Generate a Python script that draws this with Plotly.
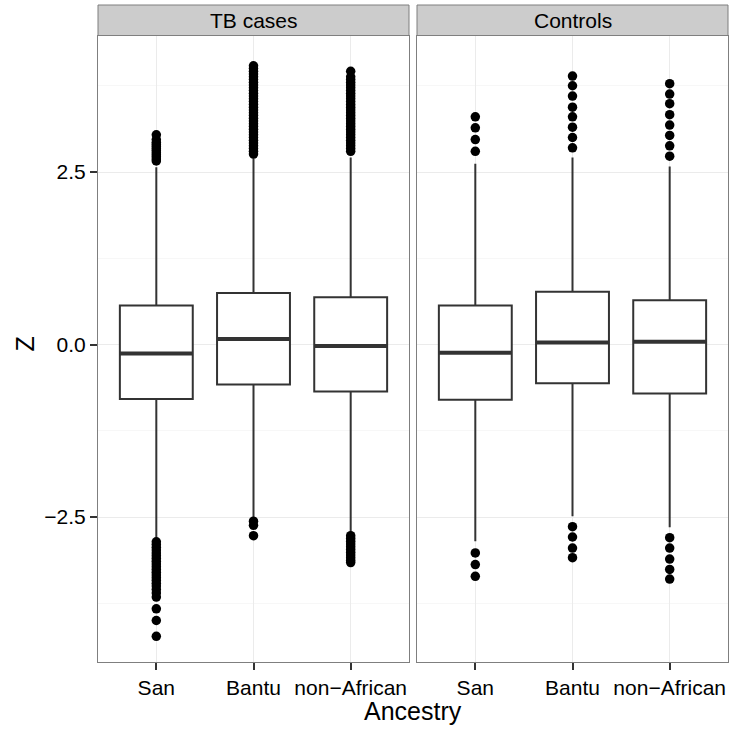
import plotly.graph_objects as go

W, H = 732, 729

panels = ["TB cases", "Controls"]
ancestry = ["San", "Bantu", "non\u2212African"]

# box statistics per panel (order: San, Bantu, non-African)
tb_q1 = [-0.79, -0.58, -0.68]
tb_median = [-0.13, 0.08, -0.02]
tb_q3 = [0.565, 0.745, 0.685]
tb_lower = [-2.80, -2.52, -2.72]
tb_upper = [2.57, 2.70, 2.71]

ctrl_q1 = [-0.80, -0.56, -0.71]
ctrl_median = [-0.12, 0.03, 0.04]
ctrl_q3 = [0.565, 0.765, 0.64]
ctrl_lower = [-2.85, -2.49, -2.65]
ctrl_upper = [2.62, 2.71, 2.58]

# outliers
tb_san_out = [2.66, 2.69, 2.72, 2.75, 2.78, 2.81, 2.84, 2.87, 2.90, 2.93, 2.97, 3.04,
              -2.86, -2.90, -2.94, -2.98, -3.02, -3.06, -3.10, -3.14, -3.18, -3.22,
              -3.26, -3.30, -3.34, -3.38, -3.42, -3.46, -3.50, -3.55, -3.60, -3.66,
              -3.83, -4.00, -4.23]
tb_bantu_out = [2.76, 2.80, 2.84, 2.88, 2.92, 2.96, 3.00, 3.04, 3.08, 3.12, 3.16, 3.20,
                3.24, 3.28, 3.32, 3.36, 3.40, 3.44, 3.48, 3.52, 3.56, 3.60, 3.64, 3.68,
                3.72, 3.76, 3.80, 3.84, 3.88, 3.92, 3.96, 4.00, 4.04,
                -2.56, -2.62, -2.77]
tb_nonaf_out = [2.80, 2.84, 2.88, 2.92, 2.96, 3.00, 3.04, 3.08, 3.12, 3.16, 3.20, 3.24,
                3.28, 3.32, 3.36, 3.40, 3.44, 3.48, 3.52, 3.56, 3.60, 3.64, 3.68, 3.72,
                3.76, 3.80, 3.84, 3.88, 3.96,
                -2.77, -2.81, -2.85, -2.89, -2.93, -2.97, -3.01, -3.05, -3.09, -3.13, -3.16]

ctrl_san_out = [2.80, 2.97, 3.14, 3.30, -3.02, -3.19, -3.36]
ctrl_bantu_out = [2.85, 3.00, 3.15, 3.30, 3.44, 3.60, 3.75, 3.89, -2.64, -2.79, -2.95, -3.09]
ctrl_nonaf_out = [2.73, 2.88, 3.03, 3.18, 3.33, 3.49, 3.63, 3.78,
                  -2.80, -2.95, -3.11, -3.26, -3.40]

y_ticks = [-2.5, 0.0, 2.5]
y_tick_text = ["\u22122.5", "0.0", "2.5"]

# ---------- layout geometry ----------
px_left = [98, 417]
px_right = [409, 728]
py_top, py_bot = 35.5, 662.0
strip_top = 5.0
zero_px, unit_px = 344.5, 69.0
y_range = [(zero_px - py_bot) / unit_px, (zero_px - py_top) / unit_px]

BOX_LINE = "#333333"
BORDER = "#7F7F7F"
positions = [1, 2, 3]
box_w = 0.75

fig = go.Figure()

stats = [
    (tb_q1, tb_median, tb_q3, tb_lower, tb_upper, [tb_san_out, tb_bantu_out, tb_nonaf_out]),
    (ctrl_q1, ctrl_median, ctrl_q3, ctrl_lower, ctrl_upper, [ctrl_san_out, ctrl_bantu_out, ctrl_nonaf_out]),
]

shapes = []
annotations = []
for p, (q1, med, q3, lo, up, outs) in enumerate(stats):
    xa = "x" if p == 0 else "x2"
    ya = "y" if p == 0 else "y2"
    fig.add_trace(go.Box(
        x=positions, q1=q1, median=med, q3=q3, lowerfence=lo, upperfence=up,
        width=box_w, whiskerwidth=0, boxpoints=False,
        fillcolor="white", line=dict(color=BOX_LINE, width=2),
        xaxis=xa, yaxis=ya, showlegend=False, hoverinfo="skip"))
    # thick medians
    for i, pos in enumerate(positions):
        fig.add_trace(go.Scatter(
            x=[pos - box_w / 2, pos + box_w / 2], y=[med[i], med[i]], mode="lines",
            line=dict(color=BOX_LINE, width=4), xaxis=xa, yaxis=ya,
            showlegend=False, hoverinfo="skip"))
        fig.add_trace(go.Scatter(
            x=[pos] * len(outs[i]), y=outs[i], mode="markers",
            marker=dict(color="black", size=9.5, line=dict(width=0)),
            xaxis=xa, yaxis=ya, showlegend=False, hoverinfo="skip"))
    # strip
    x0, x1 = px_left[p] / W, px_right[p] / W
    shapes.append(dict(type="rect", xref="paper", yref="paper",
                       x0=x0, x1=x1, y0=1 - py_top / H, y1=1 - strip_top / H,
                       fillcolor="#CCCCCC", line=dict(color=BORDER, width=1), layer="above"))
    annotations.append(dict(text=panels[p], xref="paper", yref="paper",
                            x=(x0 + x1) / 2, y=1 - (py_top + strip_top) / 2 / H,
                            showarrow=False, xanchor="center", yanchor="middle",
                            font=dict(size=21, color="black")))

ydom = [1 - py_bot / H, 1 - py_top / H]
common_x = dict(range=[0.4, 3.6], tickvals=positions, ticktext=ancestry,
                showgrid=True, gridcolor="#EBEBEB", gridwidth=1, zeroline=False,
                showline=True, mirror=True, linecolor=BORDER, linewidth=1,
                ticks="outside", ticklen=7, tickcolor="#333333", tickwidth=1.5,
                tickfont=dict(size=21, color="black"))
common_y = dict(range=y_range, tickvals=y_ticks, ticktext=y_tick_text,
                showgrid=True, gridcolor="#EBEBEB", gridwidth=1, zeroline=False,
                showline=True, mirror=True, linecolor=BORDER, linewidth=1,
                minor=dict(tickvals=[-3.75, -1.25, 1.25, 3.75], showgrid=True,
                           gridcolor="#F7F7F7", gridwidth=1, ticks=""),
                tickfont=dict(size=21, color="black"))

annotations.append(dict(text="Ancestry", xref="paper", yref="paper",
                        x=(px_left[0] + px_right[1]) / 2 / W, y=1 - 711 / H,
                        showarrow=False, xanchor="center", yanchor="middle",
                        font=dict(size=25, color="black")))
annotations.append(dict(text="Z", xref="paper", yref="paper",
                        x=24 / W, y=1 - zero_px / H, textangle=-90,
                        showarrow=False, xanchor="center", yanchor="middle",
                        font=dict(size=25, color="black")))

fig.update_layout(
    width=W, height=H, margin=dict(l=0, r=0, t=0, b=0),
    paper_bgcolor="white", plot_bgcolor="white",
    font=dict(family="Liberation Sans, Arial, sans-serif", color="black"),
    xaxis=dict(domain=[px_left[0] / W, px_right[0] / W], anchor="y", **common_x),
    xaxis2=dict(domain=[px_left[1] / W, px_right[1] / W], anchor="y2", **common_x),
    yaxis=dict(domain=ydom, anchor="x", ticks="outside", ticklen=7, tickcolor="#333333",
               tickwidth=1.5, **common_y),
    yaxis2=dict(domain=ydom, anchor="x2", showticklabels=False, ticks="", **common_y),
    shapes=shapes, annotations=annotations,
)

fig.write_html("out.html", config={"displayModeBar": False},
               post_script="document.body.style.margin='0';document.body.style.overflow='hidden';")
